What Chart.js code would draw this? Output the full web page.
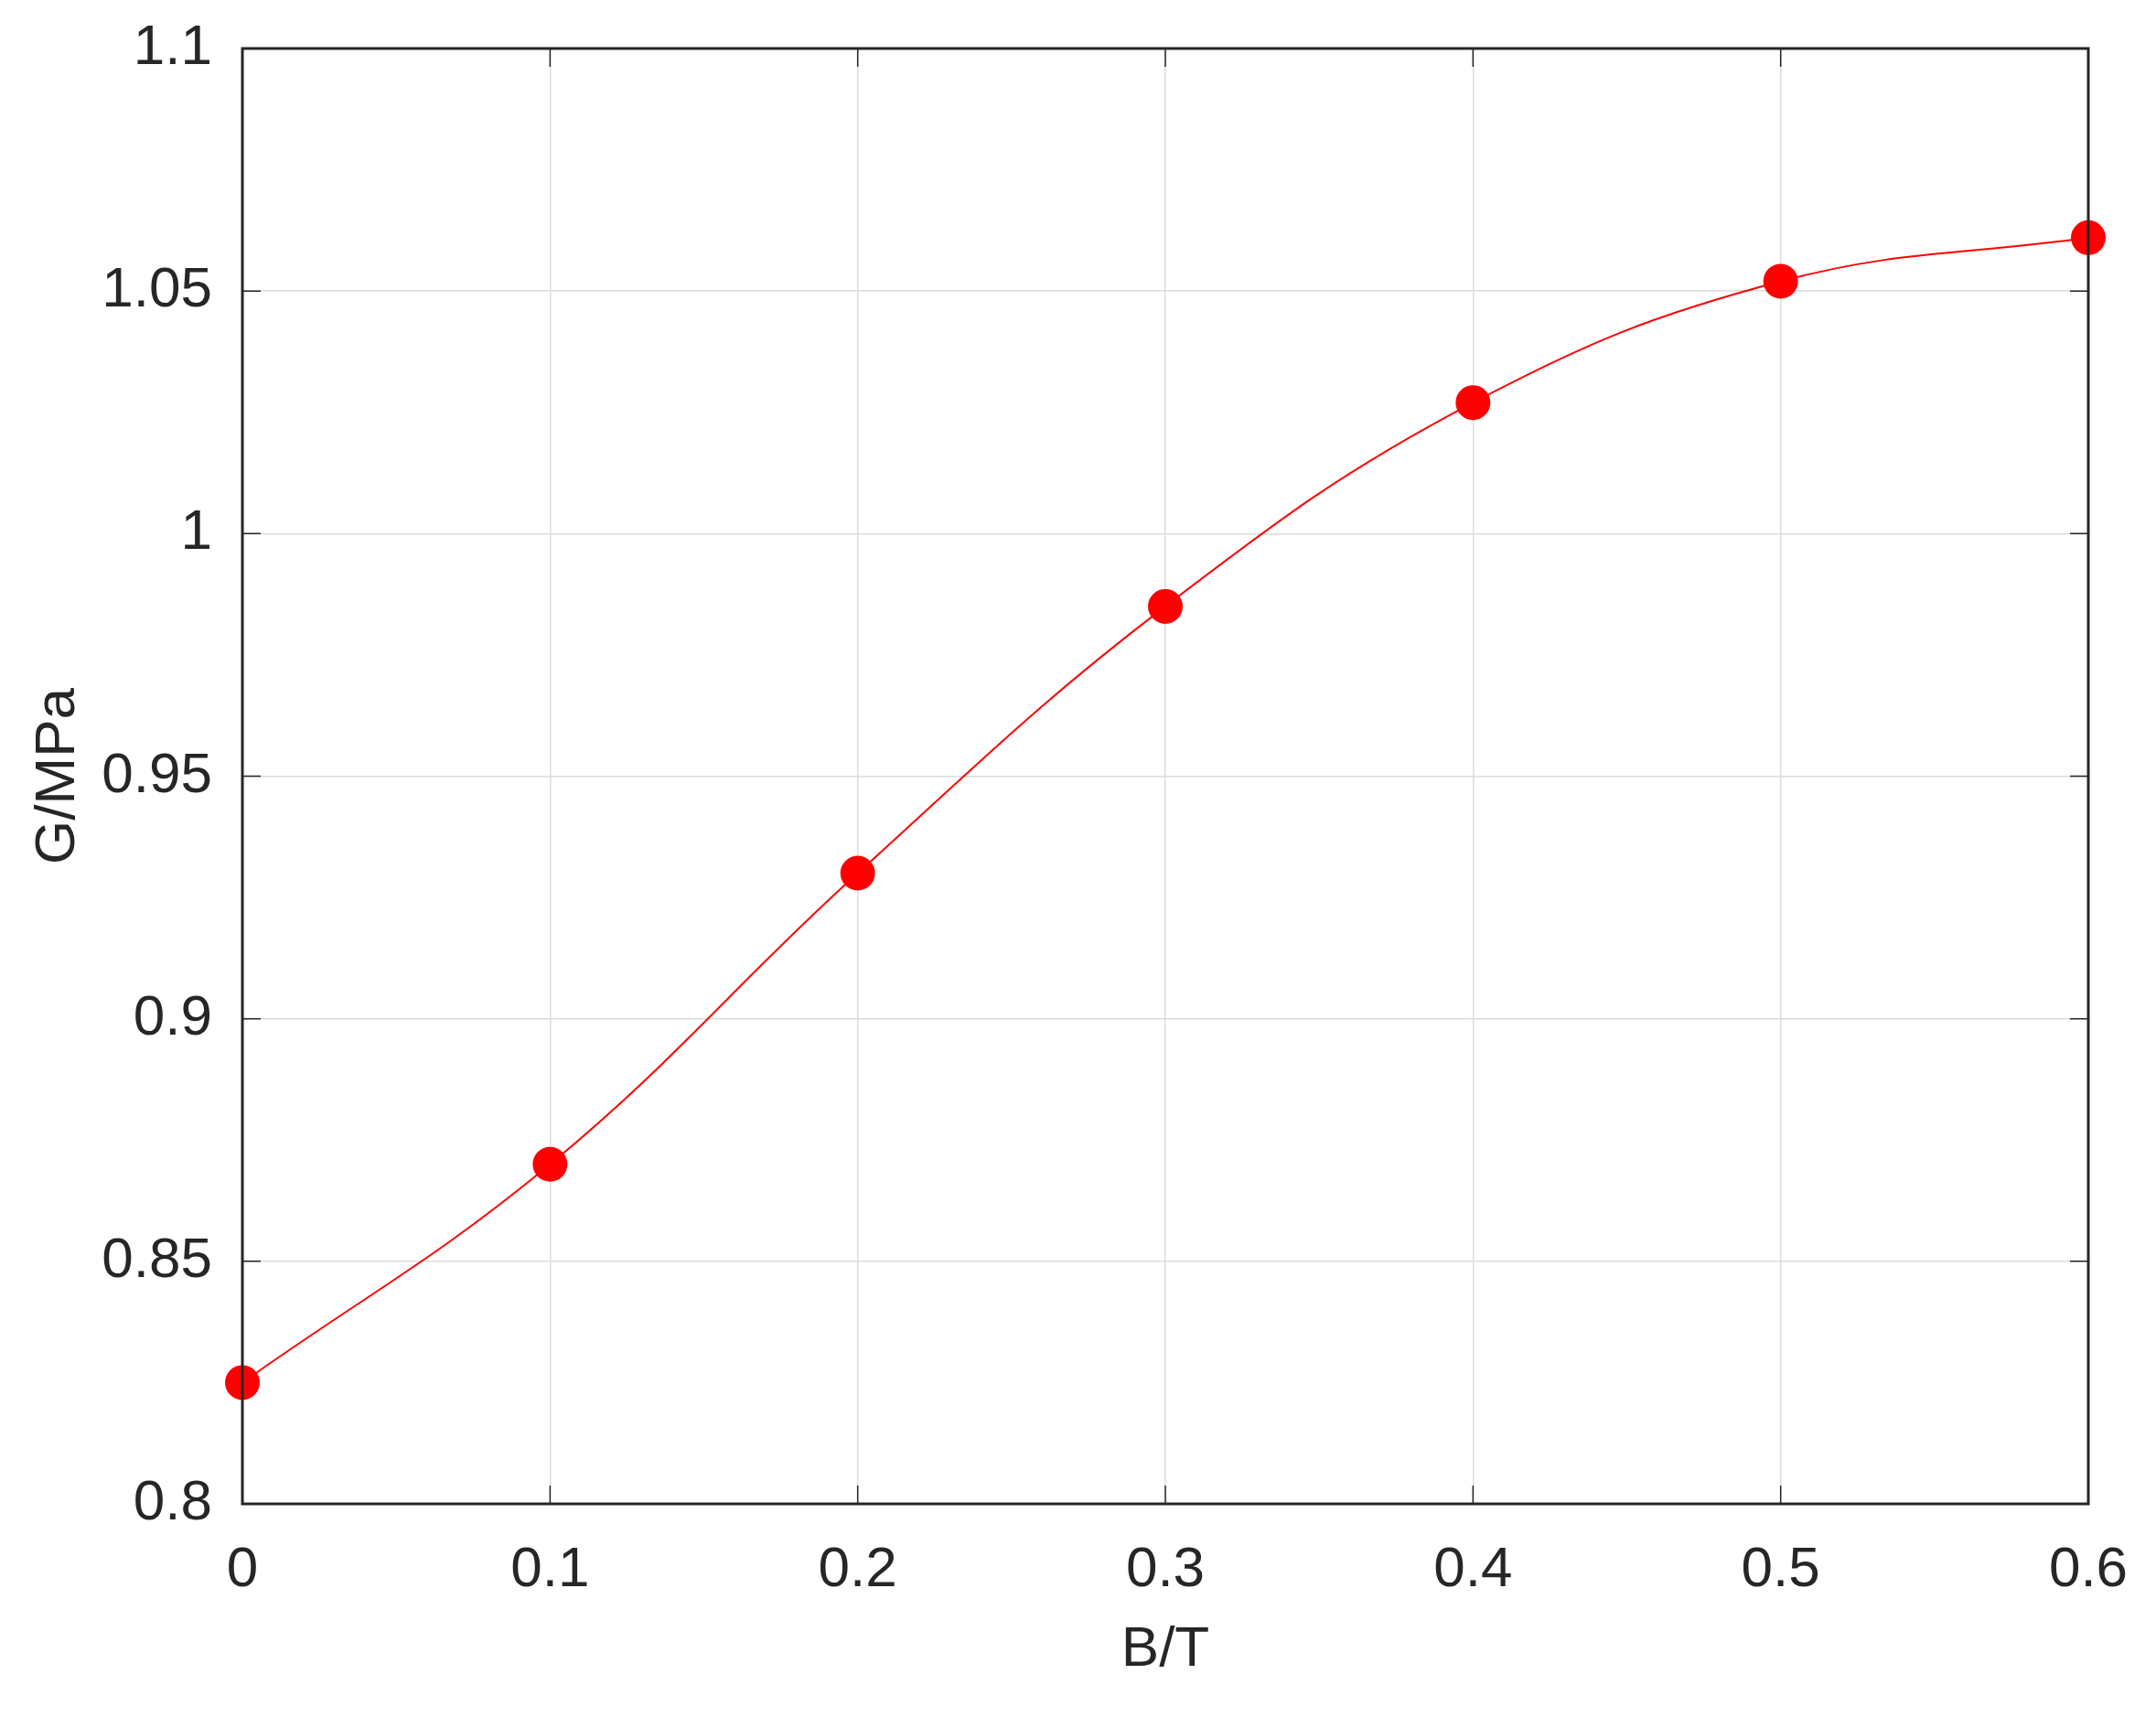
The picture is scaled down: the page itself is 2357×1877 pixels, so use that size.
<!DOCTYPE html>
<html>
<head>
<meta charset="utf-8">
<script src="https://cdn.jsdelivr.net/npm/chart.js@4/dist/chart.umd.min.js"></script>
<style>
  html, body { margin: 0; padding: 0; background: #fff; }
  #wrap { width: 2357px; height: 1877px; }
</style>
</head>
<body>
<div id="wrap"><canvas id="grafico"></canvas></div>
<script>
// Dados
const campoB = [0, 0.1, 0.2, 0.3, 0.4, 0.5, 0.6];
const moduloG = [0.825, 0.870, 0.930, 0.985, 1.027, 1.052, 1.061];
const ticksX = ['0', '0.1', '0.2', '0.3', '0.4', '0.5', '0.6'];
const ticksY = ['0.8', '0.85', '0.9', '0.95', '1', '1.05', '1.1'];

const corTexto = '#262626';
const corGrade = '#dcdcdc';

// moldura e tracinhos internos, estilo MATLAB
const moldura = {
    id: 'moldura',
    afterDraw(chart) {
        const { ctx, chartArea: a, scales } = chart;
        ctx.save();
        ctx.strokeStyle = corTexto;
        ctx.lineWidth = 1.5;
        const t = 20;
        ctx.beginPath();
        scales.x.ticks.forEach(tk => {
            const px = scales.x.getPixelForValue(tk.value);
            ctx.moveTo(px, a.bottom); ctx.lineTo(px, a.bottom - t);
            ctx.moveTo(px, a.top); ctx.lineTo(px, a.top + t);
        });
        scales.y.ticks.forEach(tk => {
            const py = scales.y.getPixelForValue(tk.value);
            ctx.moveTo(a.left, py); ctx.lineTo(a.left + t, py);
            ctx.moveTo(a.right, py); ctx.lineTo(a.right - t, py);
        });
        ctx.stroke();
        ctx.lineWidth = 3;
        ctx.strokeRect(a.left, a.top, a.right - a.left, a.bottom - a.top);
        ctx.restore();
    }
};

const fonte = { family: 'Liberation Sans, Arial, sans-serif', size: 62 };

window.onload = function() {
    const el = document.getElementById('grafico');
    new Chart(el, {
        type: 'line',
        data: {
            datasets: [{
                data: campoB.map((b, i) => ({ x: b, y: moduloG[i] })),
                borderColor: '#ff0000',
                borderWidth: 2,
                backgroundColor: '#ff0000',
                pointRadius: 19,
                pointBorderWidth: 0,
                tension: 0.4,
                fill: false,
                clip: false
            }]
        },
        options: {
            responsive: true,
            maintainAspectRatio: false,
            animation: false,
            layout: { padding: { top: 53, right: 74, left: 0, bottom: 0 } },
            plugins: { legend: { display: false }, tooltip: { enabled: false } },
            scales: {
                x: {
                    type: 'linear',
                    min: 0, max: 0.6,
                    ticks: {
                        stepSize: 0.1,
                        color: corTexto,
                        font: fonte,
                        padding: 36,
                        maxRotation: 0,
                        callback: (v) => ticksX[Math.round(v * 10)]
                    },
                    grid: { color: corGrade, lineWidth: 1.5, drawTicks: false },
                    border: { display: false },
                    title: { display: true, text: 'B/T', color: corTexto, font: fonte, padding: { top: 0, bottom: 36 } },
                    afterFit(s) {
                        s.height = 1877 - 1644;
                        s.paddingLeft = 0;
                        s.paddingRight = 0;
                    }
                },
                y: {
                    type: 'linear',
                    min: 0.8, max: 1.1,
                    ticks: {
                        stepSize: 0.05,
                        color: corTexto,
                        font: fonte,
                        padding: 33,
                        callback: (v) => ticksY[Math.round((v - 0.8) * 20)]
                    },
                    grid: { color: corGrade, lineWidth: 1.5, drawTicks: false },
                    border: { display: false },
                    title: { display: true, text: 'G/MPa', color: corTexto, font: fonte, padding: { top: 27, bottom: 0 } },
                    afterFit(s) {
                        s.width = 265;
                        s.paddingTop = 0;
                        s.paddingBottom = 0;
                    }
                }
            }
        },
        plugins: [moldura]
    });
};
</script>
</body>
</html>
